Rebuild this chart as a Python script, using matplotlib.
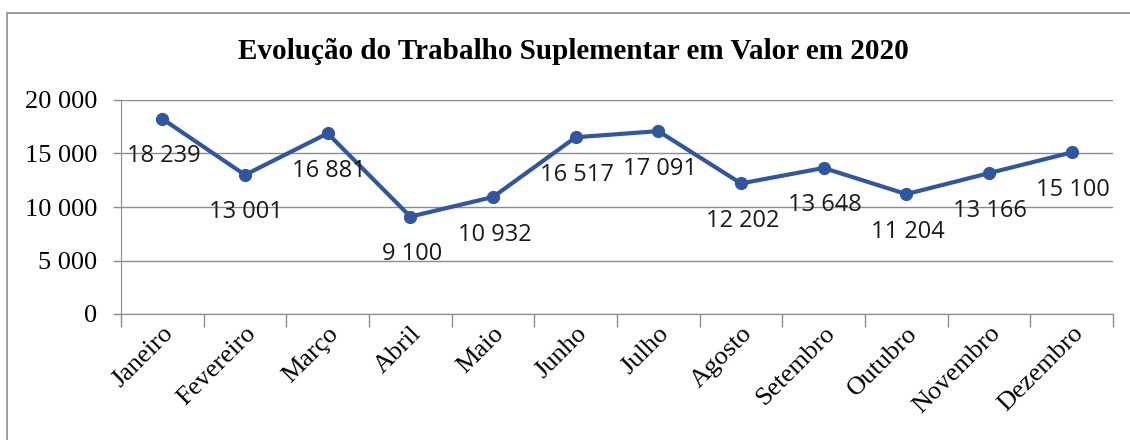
import matplotlib
matplotlib.use("Agg")
import matplotlib.pyplot as plt
import matplotlib.transforms as mtransforms
from matplotlib.patches import Rectangle

# data
meses = ["Janeiro", "Fevereiro", "Março", "Abril", "Maio", "Junho", "Julho",
         "Agosto", "Setembro", "Outubro", "Novembro", "Dezembro"]
valores = [18239, 13001, 16881, 9100, 10932, 16517, 17091,
           12202, 13648, 11204, 13166, 15100]
yticks = [0, 5000, 10000, 15000, 20000]

def fmt(v):
    return "{:,}".format(v).replace(",", " ")

azul = "#30579E"
cinza = "#8c8c8c"

fig = plt.figure(figsize=(11.3, 4.4), dpi=100)
fig.patch.set_facecolor("white")
ax = fig.add_axes([121 / 1130, 1 - 314 / 440, 992 / 1130, 214 / 440])

x = list(range(len(meses)))
ax.plot(x, valores, color=azul, lw=3, marker="o", ms=8.5, zorder=3)
for xi, v in zip(x, valores):
    ax.annotate(fmt(v), (xi, v), xytext=(1, -27), textcoords="offset points",
                ha="center", va="center", fontsize=17, family="Open Sans",
                color="#1a1a1a")

ax.set_xlim(-0.5, len(meses) - 0.5)
ax.set_ylim(0, 20000)
ax.set_yticks(yticks)
ax.set_yticklabels([fmt(v) for v in yticks], family="Liberation Serif", fontsize=19)
ax.yaxis.grid(True, color=cinza, lw=1)
ax.set_axisbelow(True)

# category ticks between months
ax.set_xticks([i - 0.5 for i in range(len(meses) + 1)], minor=False)
ax.set_xticklabels([])
ax.set_xticks(x, minor=True)
ax.set_xticklabels(meses, minor=True, rotation=45, ha="right", rotation_mode="anchor",
                   family="Liberation Serif", fontsize=19)
off = mtransforms.ScaledTranslation(0.10, 0, fig.dpi_scale_trans)
for lab in ax.xaxis.get_minorticklabels():
    lab.set_transform(lab.get_transform() + off)
ax.tick_params(axis="x", which="major", length=9, color=cinza, width=1)
ax.tick_params(axis="x", which="minor", length=0, pad=6)
ax.tick_params(axis="y", length=6, color=cinza, width=1, pad=11)

for s in ["top", "right"]:
    ax.spines[s].set_visible(False)
ax.spines["left"].set_color(cinza)
ax.spines["bottom"].set_color(cinza)

fig.text(0.507, 0.884, "Evolução do Trabalho Suplementar em Valor em 2020",
         ha="center", va="center", family="Liberation Serif", fontweight="bold",
         fontsize=21)

fig.patches.append(Rectangle((7 / 1130, -0.05), 1.2, 0.05 + 1 - 13 / 440,
                             transform=fig.transFigure, fill=False,
                             edgecolor=cinza, lw=1.2))

fig.savefig("out.png", dpi=100)
